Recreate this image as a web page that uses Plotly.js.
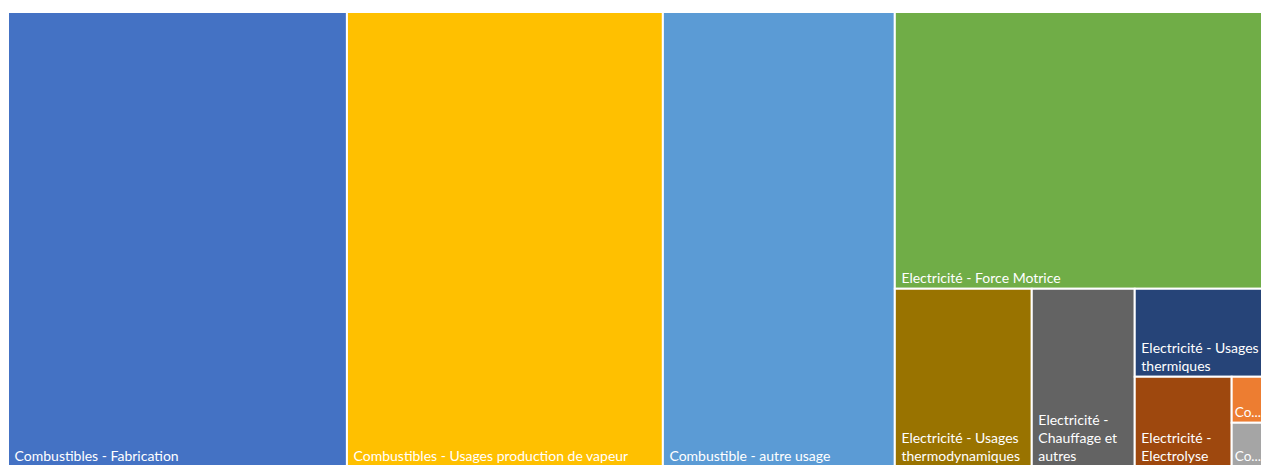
<!DOCTYPE html>
<html>
<head>
<meta charset="utf-8">
<script src="https://cdn.plot.ly/plotly-3.0.1.min.js"></script>
<style>
  html, body { margin: 0; padding: 0; background: #ffffff; overflow: hidden; }
  #chart { width: 1264px; height: 467px; }
</style>
</head>
<body>
<div id="chart"></div>
<script>
// Shares (%) of final energy use, read from the tile areas
const ids = [
  "comb_fab", "comb_vap", "comb_autre", "elec_force",
  "elec_thermo", "elec_chauff", "elec_usth", "elec_electrolyse",
  "co_1", "co_2"
];
const labels = [
  "Combustibles - Fabrication",
  "Combustibles - Usages production de vapeur",
  "Combustible - autre usage",
  "Electricité - Force Motrice",
  "Electricité - Usages thermodynamiques",
  "Electricité - Chauffage et autres",
  "Electricité - Usages thermiques",
  "Electricité - Electrolyse",
  "Co...",
  "Co..."
];
// Text lines as wrapped in the tiles
const textLines = [
  ["Combustibles - Fabrication"],
  ["Combustibles - Usages production de vapeur"],
  ["Combustible - autre usage"],
  ["Electricité - Force Motrice"],
  ["Electricité - Usages", "thermodynamiques"],
  ["Electricité -", "Chauffage et", "autres"],
  ["Electricité - Usages", "thermiques"],
  ["Electricité -", "Electrolyse"],
  ["Co..."],
  ["Co..."]
];
const values = [26.99, 25.16, 18.47, 17.89, 4.27, 3.21, 1.99, 1.53, 0.26, 0.25];
const colors = [
  "#4472C4", "#FFC000", "#5B9BD5", "#70AD47",
  "#997300", "#636363", "#264478", "#9E480E",
  "#ED7D31", "#A5A5A5"
];
const parents = ids.map(() => "");

// small inner left padding for the larger tiles
const displayText = textLines.map((lines, i) =>
  lines.map(l => (values[i] > 1 ? "\u00a0" : "") + l).join("<br>")
);

const trace = {
  type: "treemap",
  ids: ids,
  labels: labels,
  parents: parents,
  values: values,
  text: displayText,
  textinfo: "text",
  texttemplate: "%{text}",
  textposition: "bottom left",
  sort: true,
  tiling: { packing: "squarify", squarifyratio: 1, pad: 0 },
  pathbar: { visible: false },
  marker: {
    colors: colors,
    line: { color: "#ffffff", width: 2 },
    pad: { t: 0, l: 0, r: 0, b: 0 }
  },
  textfont: { family: "Lato, 'Open Sans', sans-serif", size: 14, color: "#ffffff" },
  hoverinfo: "label+value"
};

const layout = {
  width: 1264,
  height: 467,
  margin: { l: 8, r: 0, t: 12, b: 0 },
  paper_bgcolor: "#ffffff",
  showlegend: false
};

Plotly.newPlot("chart", [trace], layout, { displayModeBar: false, staticPlot: true });
</script>
</body>
</html>
